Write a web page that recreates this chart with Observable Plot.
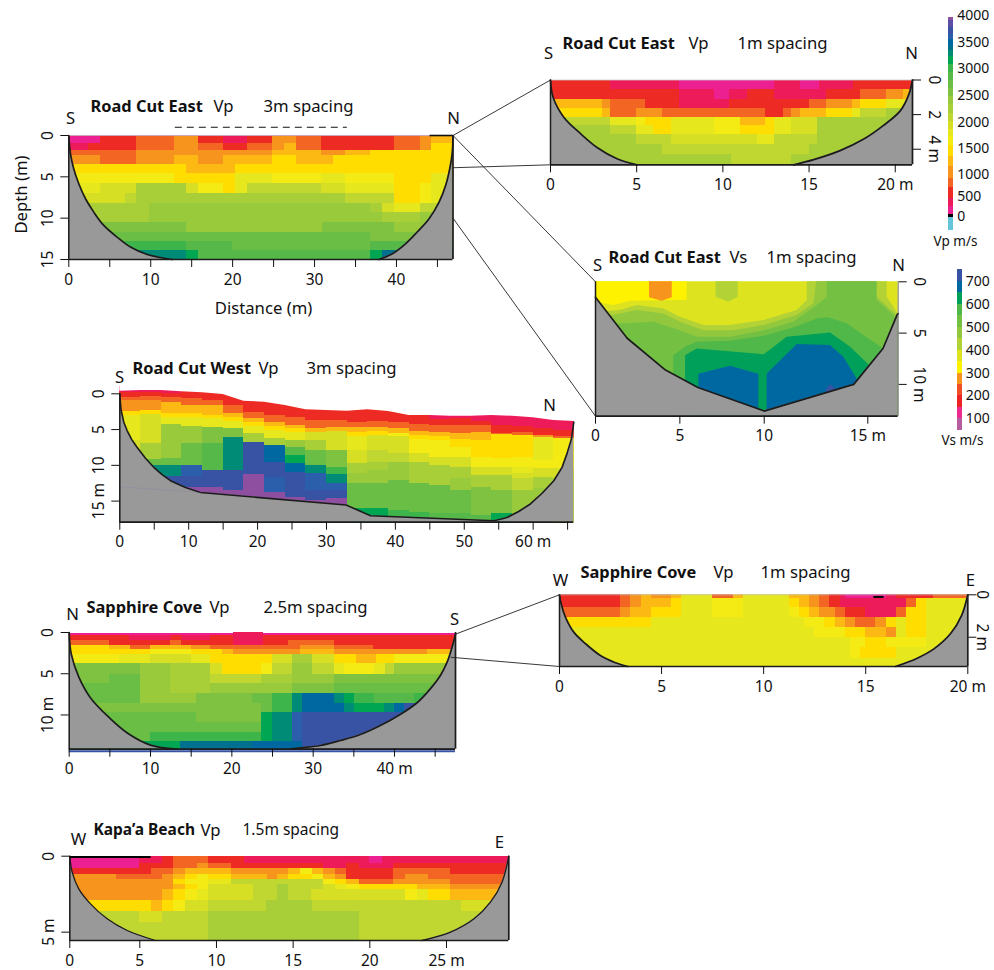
<!DOCTYPE html>
<html><head><meta charset="utf-8">
<style>html,body{margin:0;padding:0;background:#fff}#page{position:relative;width:994px;height:970px;overflow:hidden}</style>
<script src="https://cdn.jsdelivr.net/npm/d3@7"></script>
<script src="https://cdn.jsdelivr.net/npm/@observablehq/plot@0.6"></script>
</head><body><div id="page"></div>
<script>
// ---------- colour scales (m/s) ----------
const vpThresholds=[-40,50,250,450,700,900,1150,1350,1550,1725,1875,2025,2175,2325,2475,2625,2775,2925,3075,3225,3350,3450,3550,3650,3775,3900];
const vpColors=["#62c5da","#000000","#ec2090","#ed1b5a","#ee2a24","#f26522","#f7941e","#fdb913","#ffdd00","#f4eb15","#e6e71d","#d6df23","#bfd730","#a9cf38","#98ca3c","#7fc241","#6abd45","#55b848","#3db54a","#00a651","#008b76","#00708e","#0068a0","#2b5eab","#3953a4","#5a4fa2","#8e4fa0"];
const vsThresholds=[100,150,200,250,300,350,400,450,500,550,600,650,700];
const vsColors=["#b65da0","#ec2a90","#ed2224","#f04e25","#f7941e","#fff200","#dde31f","#b3d235","#92c83e","#74c043","#4fb848","#00a05a","#0068a0","#3953a4"];

// ---------- Road Cut East Vp 3 m: rows are [xEnd, velocity, ...] ----------
const rce3Depths=[0,.15,.93,1.8,2.4,3.5,4.6,5.85,7,8.2,9.3,10.5,11.7,12.8,13.9,15];
const rce3Rows=[
[44.1,150,46.9,1250],
[3.9,150,8.3,550,12.9,800,15.85,1000,18.9,550,21.8,350,24.9,550,27.85,1000,30.9,800,39.8,550,42.9,800,44.3,1000,46.9,1250],
[2.4,350,8.3,550,12.9,800,15.85,1000,18.9,800,21.8,550,24.9,800,26.3,1000,27.85,1250,30.9,800,39.8,550,42.9,800,44.3,1000,46.9,1450],
[8.3,800,24.9,1000,30.9,1250,33.8,1000,36.8,1250,46.9,1450],
[3.9,1000,8.3,800,12.9,1000,15.85,1250,18.9,1000,24.9,1250,27.85,1450,32.3,1250,46.9,1450],
[14.35,1450,20.3,1250,46.9,1450],
[12.9,1650,20.3,1450,24.9,1800,30.9,1650,33.8,1800,39.8,1650,44.3,1450,46.9,1800],
[3.9,1800,8.3,1950,14.35,2250,15.85,1950,18.9,1650,20.3,1450,21.8,1800,30.9,2100,33.8,1950,39.8,1800,42.9,1450,44.3,1650,46.9,1800],
[6.9,1950,8.3,2100,33.8,2250,39.8,2100,42.9,1450,44.3,1650,46.9,1800],
[9.8,2250,36.8,2400,38.3,2250,39.8,1950,42.9,1800,46.9,2100],
[9.8,2250,38.3,2400,42.9,2250,46.9,2400],
[14.35,2550,31,2400,39.8,2550,46.9,2400],
[36.8,2700,46.9,2550],
[14.35,3000,20,2850,36.8,2700,46.9,2850],
[14.35,3300,15.85,3150,36.8,2850,38.3,3150,46.9,3400]];
const rce3Boundary=[[0,0],[.2,2.2],[.6,4.03],[1.22,5.84],[2.04,7.65],[3.05,9.27],[4.27,10.88],[5.9,12.3],[7.53,13.5],[9.57,14.4],[12.6,15],[37.85,15],[39.5,14.3],[41.1,13.1],[42.5,11.7],[43.96,10.1],[45.2,8.07],[46,6.05],[46.5,4.03],[46.8,2.2],[46.9,0]];

// ---------- Road Cut East Vp 1 m ----------
const rce1Depths=[0,.56,1.12,1.62,2.16,2.64,3.16,3.7,4.28,4.9];
const rce1Rows=[
[3.5,550,5.5,350,7.5,350,13,150,14.5,350,15.6,150,17.6,350,21,550],
[7.5,550,9.5,350,10.4,150,11.4,350,13,550,16,350,18,550,19.5,800,20.5,1000,21,1250],
[3,1250,3.5,1000,5.5,800,7.5,550,10.4,350,15,550,16,800,17.5,1000,18,1250,19.5,1450,21,1800],
[3,1450,3.5,1250,5,800,6.5,1000,12.5,800,13.5,550,14,800,14.5,1000,16,1250,17.5,1450,18,1800,19.5,2100,21,2250],
[3.5,2100,5,1800,5.5,1650,7,1450,9.5,1800,11,1650,12.5,1250,13,1450,14,1800,15.5,1950,21,2250],
[3.5,2250,5,2100,6,1800,7,1450,9.5,1800,11,1650,13,1450,14,1800,15.5,1950,21,2250],
[5,2250,7,2100,12,1950,13,1800,15.5,2100,21,2250],
[6.5,2250,15,2100,21,2250],
[10.5,2250,14,2100,21,2250]];
const rce1Boundary=[[0,0],[.15,1],[.77,2.15],[1.74,3.1],[2.7,3.9],[3.86,4.55],[5.02,4.9],[14.1,4.9],[15.27,4.6],[16.8,4.08],[18.2,3.4],[19.3,2.64],[20.3,1.77],[20.8,.8],[21,0]];

// ---------- Road Cut East Vs 1 m: layers are [x, top, bottom] ----------
const vsLayers=[
{v:375,pts:[[0,0,13.1],[16.8,0,13.1]]},
{v:325,pts:[[0,0,2],[1.09,0,2.3],[2.07,0,1.9],[5.43,0,1.8]]},
{v:275,pts:[[3.2,0,1.56],[3.95,0,1.89],[4.55,0,1.56]]},
{v:425,pts:[[7.15,0,1.5],[7.9,0,2],[8.46,0,1.5]]},
{v:425,pts:[[0,3,13.1],[1.48,2.8,13.1],[2.47,2.31,13.1],[4.05,2.64,13.1],[5.04,3.45,13.1],[6.42,4.27,13.1],[8,4.27,13.1],[10,3.78,13.1],[11.59,2.8,13.1],[12.08,1.82,13.1],[12.08,0,13.1],[16.15,0,13.1],[16.15,1.5,13.1],[16.74,3,13.1],[16.8,3.2,13.1]]},
{v:475,pts:[[0,3.4,13.1],[1.09,3.29,13.1],[2.47,2.8,13.1],[4.05,3.13,13.1],[5.04,3.94,13.1],[6.42,4.76,13.1],[8.2,4.76,13.1],[10,4.27,13.1],[11.59,3.29,13.1],[12.4,2.15,13.1],[12.53,0,13.1],[15.55,0,13.1],[15.55,1.5,13.1],[16.74,3.3,13.1],[16.8,3.4,13.1]]},
{v:525,pts:[[0,4.2,13.1],[1.58,4.1,13.1],[3.46,3.94,13.1],[5.04,4.76,13.1],[6.03,5.4,13.1],[8,5.4,13.1],[10,4.76,13.1],[11.43,3.94,13.1],[12.56,2.31,13.1],[13.04,1.5,13.1],[13.04,0,13.1],[15.55,0,13.1],[15.55,1.8,13.1],[16.55,3.3,13.1],[16.8,3.8,13.1]]},
{v:575,pts:[[4.64,7.2,13.1],[5.4,6.3,13.1],[6.03,5.9,13.1],[8,5.8,13.1],[10,5.3,13.1],[11.43,4.5,13.1],[12.6,3.6,13.1],[13.1,3.5,13.1],[14,4.1,13.1],[15,5.5,13.1],[15.9,6.5,13.1]]},
{v:625,pts:[[5.34,7.2,13.1],[6.03,6.55,13.1],[10,7.1,13.1],[11.11,5.4,13.1],[13.2,5,13.1],[14.17,6.38,13.1],[15.06,8.08,13.1]]},
{v:675,pts:[[6.13,9,13.1],[8,8.24,13.1],[9.68,9,13.1]]},
{v:675,pts:[[10.14,9,13.1],[11.59,6.12,13.1],[13.2,6.2,13.1],[13.84,7.36,13.1],[14.48,9.48,13.1]]},
{v:725,pts:[[13,10.6,11],[13.2,10.03,11],[13.45,10.45,11]]}];
const vsBoundary=[[0,1.5],[1.88,5.5],[4.15,8.6],[6.07,10.3],[10,12.6],[14.32,10],[15.9,6.5],[16.74,3.2],[16.8,3.1]];

// ---------- Road Cut West Vp 3 m: 3 m columns, entries are [depthEnd, velocity, ...] ----------
const westColumns=[
[-.2,350,.47,550,.93,800,2.5,1000,3.04,1450,6.54,1800,7.94,1950,9.1,2250,10.05,2700,11.3,3300,18,3700],
[-.2,350,.4,550,1,800,2.34,1000,2.9,1450,7,1950,9.2,2250,10.05,2700,11.3,3300,18,3700],
[-.1,350,.5,550,1.2,800,2.8,1250,3.27,1450,4.3,1800,9.1,2400,10.05,2700,11.6,3300,12.85,3700,18,3950],
[.7,550,1.64,800,2.8,1250,3.27,1450,4.58,1800,7,2400,10.05,2700,11.6,3600,13.1,3700,18,3950],
[.93,550,1.64,800,3.04,1250,3.5,1450,4.67,1800,7,2550,10.75,2850,13.1,3700,18,3950],
[1.64,550,2.8,800,3.27,1250,3.83,1450,4.9,1800,6.17,2550,10.75,3300,13.55,3700,18,3950],
[2.57,550,3.5,800,3.97,1250,4.58,1450,5.6,1800,6.78,2250,11.3,3700,18,3950],
[3.04,550,3.97,800,4.58,1250,5.14,1450,6.3,1800,7.24,2250,9.58,3500,11.7,3700,13.8,3600,18,3950],
[3.27,550,4.44,800,4.9,1250,5.47,1450,6.54,1800,7.48,2400,8.64,2850,9.8,3150,11,3500,14.5,3700,18,3950],
[3.74,550,4.9,800,5.37,1250,6.54,1950,7.94,2250,10.05,2700,11.2,3300,13.55,3600,14.95,3700,18,3950],
[3.74,550,4.67,800,5.23,1250,7.94,1950,10.28,2550,11.35,3000,12.5,3300,13.55,3600,14.7,3700,18,3950],
[3.97,550,4.77,800,5.37,1250,5.93,1450,7.94,1800,9.8,1950,11.2,2250,12.6,2400,16.1,2700,18,3150],
[3.83,550,4.67,800,5.3,1250,5.84,1450,7.94,1950,9.58,2100,10.75,2250,12.6,2400,16.1,2700,18,3150],
[3.97,550,4.9,800,5.5,1250,6,1650,8.4,1950,9.58,2100,12.15,2400,16.35,2700,18,3000],
[4.3,550,5.23,800,5.84,1250,6.45,1450,8.4,1650,9.58,1950,12.6,2250,16.6,2700,18,3000],
[3.64,350,4.44,550,5.37,800,6,1250,6.54,1450,8.88,1650,10.05,1950,12.85,2250,16.8,2700,18,2850],
[3.5,350,4.44,550,5.6,800,6.45,1250,7.48,1450,8.88,1650,10.28,1950,11.9,2250,13.55,2400,16.8,2700,18,2850],
[3.83,350,4.44,550,5.37,800,6.54,1250,8.88,1450,10.28,1650,11.45,1950,13.1,2250,17.05,2550,18,2850],
[4.44,350,5.5,550,5.7,800,9.1,1450,10.28,1650,11.45,1950,13.55,2250,16.8,2550,18,3150],
[4.58,350,5.37,550,5.84,800,8.88,1450,10.28,1650,11.2,1800,11.9,1950,13.55,2100,18,2400],
[4.9,350,5.84,550,6.17,1000,9.35,1800,10.5,1650,11.7,1950,13.3,2250,18,2400],
[5.14,350,5.96,550,6.3,800,10.5,1650,11.9,1950,18,2100]];
const westColumnWidth=3;
const westSurface=[[0,-.37],[3,-.47],[6,-.47],[9,-.28],[12,-.14],[15,.09],[18,1.03],[21,1.17],[24,1.64],[27,2.24],[30,2.34],[33,2.43],[36,2.24],[39,2.48],[42,3.04],[45,3.04],[48,3.13],[51,3.13],[54,3.04],[57,3.13],[60,3.36],[63,3.74],[66,3.88]];
const westBoundary=[[0,0],[.1,1.4],[.2,2.34],[.58,3.97],[1.06,5.14],[1.74,6.4],[2.5,7.48],[3.73,9],[4.93,10.28],[6.14,11.3],[7.35,12.15],[9.53,13.1],[11.7,13.8],[32.85,15.55],[36.4,17.05],[54.3,17.75],[55.25,17.55],[56.2,17.3],[57.9,16.45],[59.6,15.4],[61.3,13.9],[63,12.15],[64.2,10.28],[64.9,8.4],[65.56,6.3],[65.9,3.97]];
const westFaintLine=[[0,13],[11.7,13.8]];

// ---------- Sapphire Cove Vp 2.5 m ----------
const sc25Depths=[.15,.4,1,1.6,2.1,2.7,3.8,5.04,6.2,7.36,8.6,9.7,10.9,12.07,13.2,14.15];
const sc25Rows=[
[47.5,150],
[7.4,550,12.6,350,13.8,550,17.4,350,47.5,550],
[5,800,12.5,550,13.8,800,27,550,32.6,800,47.5,550],
[5,1450,7.5,1250,10,800,15,1250,17.4,1000,28.5,800,32.6,1000,37.4,800,47.5,550],
[10,1450,15,1650,18.8,1450,20.25,1250,28.5,1000,32.6,1250,44,1000,47.5,1250],
[6.2,1650,10,1800,15,1950,17.4,1800,25,1450,27.5,1950,29.9,2250,32.6,1950,35.3,1450,37.8,1250,40,1450,47.5,1650],
[8.8,2550,12.5,2400,17.4,2250,18.8,1950,23.7,1450,25,1650,27.5,2100,29.9,2400,32.6,2100,33.8,1800,37.6,1650,38.9,1800,40,2100,47.5,2400],
[5,2550,8.8,2700,12.5,2400,17.4,2250,23.7,2100,27.5,2250,32.6,2400,47.5,2550],
[8.8,2700,12.5,2400,17.4,2250,27.5,2400,32.6,2550,47.5,2700],
[8.8,2700,15.7,2400,22.5,2550,25,2700,27.5,3000,28.7,3300,32.6,3500,33.8,3300,35.1,3150,37.6,3000,42.5,2850,47.5,3000],
[23.7,2550,25,2700,27.5,3000,28.7,3300,33.8,3500,35.1,3300,38.8,3150,40,3300,41.2,3500,47.5,3700],
[15.7,2700,23.7,2550,25,3150,27.5,3300,28.7,3600,47.5,3700],
[23.7,2700,25,3150,27.5,3300,28.7,3600,47.5,3700],
[10,2700,23.7,3000,25,3150,27.5,3300,28.7,3600,47.5,3700],
[13.7,3150,22.5,3400,28.7,3500,47.5,3700]];
const sc25Chunk=[{x1:20.25,x2:23.85,y1:0,y2:1.6,v:350}];
const sc25Boundary=[[0,0],[.25,2.6],[1.2,5.45],[2.6,7.9],[4.9,10.3],[7.1,12.15],[10,13.65],[13.3,14.15],[27.2,14.15],[28.43,13.98],[30.9,13.7],[33.35,13.1],[35.8,12.37],[38.26,11.28],[40.7,9.94],[42.78,8.52],[44.4,6.83],[45.64,5.21],[46.47,3.6],[47.08,1.78],[47.5,.24]];

// ---------- Sapphire Cove Vp 1 m ----------
const sc1Depths=[0,.18,.6,1.08,1.56,2.03,2.5,3,3.38];
const sc1Rows=[
[3,550,3.5,800,4,1000,4.5,1250,5.5,1000,6,1250,7.5,1800,8.5,800,9,1250,11.25,1800,12.25,1250,12.75,1000,13.25,800,13.75,550,14,350,16,150,16.5,350,18.3,550,20,800],
[3,550,3.5,800,4,1000,5.5,1250,6,1450,7.5,1800,9,1650,11.25,1800,11.75,1450,12.25,1250,12.75,1000,13.25,800,13.75,550,17,350,17.5,800,18,1450,20,1800],
[3,800,3.5,1000,4.5,1250,6,1450,7.5,1800,9,1650,11.25,1800,11.75,1650,12.25,1450,12.75,1250,13.5,1000,14,800,15,550,16.5,350,17,800,18,1450,20,1800],
[4.5,1450,12,1800,13,1650,13.5,1450,14,1250,14.5,1000,15.5,800,16,1000,16.5,1450,17,1800,18,1450,20,1800],
[12.5,1800,14,1650,15,1450,16,1250,16.5,1000,17,1800,18,1450,20,1800],
[14.25,1800,15,1650,16,1450,18,1650,20,1800],
[14.25,1800,14.75,1650,16.5,1450,20,1800],
[20,1800]];
const sc1Boundary=[[0,0],[.08,.42],[.29,1.05],[.7,1.76],[1.27,2.3],[2,2.86],[2.74,3.2],[3.35,3.38],[16.46,3.38],[17.5,3],[18.34,2.55],[19.15,1.84],[19.7,.97],[20,0]];

// ---------- Kapa'a Beach Vp 1.5 m ----------
const kbDepths=[0,.46,.83,1.23,1.54,1.89,2.2,2.9,3.64,4.34,5.55];
const kbRows=[
[5,150,6.46,350,7.2,550,9.5,800,11.8,550,20,350,20.8,150,21.56,350,29.07,350],
[5,150,7.2,550,8.74,800,9.5,1000,11,800,17,550,18.5,350,19.3,550,21.56,350,29.07,550],
[5.74,550,7.2,800,8,1000,11,1250,14.7,1000,15.5,1250,16.24,1650,17,1250,17.76,1000,18.5,800,21.56,550,25.26,800,29.07,550],
[3.3,1000,6.46,800,7.2,1000,8,1250,8.74,1450,9.5,1650,11,1450,13.3,1250,13.96,1000,14.7,1250,16.24,1450,17,1650,17.76,1250,18.5,1000,21.56,550,22.3,800,23.85,1000,29.07,800],
[7.2,1000,8,1450,9.5,1650,11,1800,17,2100,17.76,1650,18.5,1450,19.3,1250,21.56,800,25.26,1000,29.07,800],
[7.2,1000,8,1250,8.74,1450,9.5,1650,12.43,1950,13.96,2100,14.7,2250,17,2100,17.76,1950,18.5,1800,19.3,1650,23.1,1450,25.26,1250,29.07,1000],
[6.46,1000,7.2,1250,8,1450,8.74,1650,9.5,1800,12.43,1950,14,2100,14.7,2250,16.2,2100,22.3,1950,23.1,1650,23.85,1800,25.26,1450,29.07,1250],
[5.74,1450,6.46,1250,7.2,1450,8,1650,9.5,1950,13.26,2100,16.24,2250,26,2100,29.07,1950],
[5,2100,6.46,1950,9.5,2100,19.3,2250,29.07,2100],
[9.5,2100,19.3,2250,29.07,2100]];
const kbBoundary=[[0,0],[.17,1.05],[.64,2.15],[1.48,3.14],[2.67,4.12],[4.1,4.89],[6.02,5.55],[23.4,5.55],[25.26,5],[26.8,4.12],[27.87,3.03],[28.63,1.71],[29.07,0]];

// ---------- legend ticks ----------
const vpLegendTicks=[0,500,1000,1500,2000,2500,3000,3500,4000];
const vsLegendTicks=[100,200,300,400,500,600,700];

// ---------- helpers ----------
const FONT='"Noto Sans",sans-serif';
const page=document.getElementById("page");
const GRAY="#999999", DARK="#1c1c1c";
const vpColor={type:"threshold",domain:vpThresholds,range:vpColors};
const vsColor={type:"threshold",domain:vsThresholds,range:vsColors};
const pts=a=>a.map(([x,y])=>({x,y}));
function rowCells(depths,rows){const out=[];rows.forEach((r,i)=>{let x0=0;for(let j=0;j<r.length;j+=2){out.push({x1:x0,x2:r[j],y1:depths[i],y2:depths[i+1],v:r[j+1]});x0=r[j];}});return out;}
function columnCells(cols,w,start){const out=[];cols.forEach((c,i)=>{let y0=start;for(let j=0;j<c.length;j+=2){out.push({x1:i*w,x2:(i+1)*w,y1:y0,y2:c[j],v:c[j+1]});y0=c[j];}});return out;}
const cellMark=c=>Plot.rect(c,{x1:"x1",x2:"x2",y1:"y1",y2:"y2",fill:"v",shapeRendering:"crispEdges"});
function build(c,marks){
  const p=Plot.plot({width:994,height:970,marginLeft:c.l,marginRight:994-c.r,marginTop:c.t,marginBottom:970-c.b,
    x:{type:"linear",domain:c.xd,range:c.xr||[c.l,c.r],axis:null},
    y:{type:"linear",domain:c.yd,range:c.yr||[c.t,c.b],axis:null},
    color:c.color,
    style:{position:"absolute",left:"0",top:"0",background:"transparent",fontFamily:FONT,color:"#111",overflow:"visible"},
    marks});
  page.appendChild(p);return p;
}
// a label placed by its page position, relative to the frame of panel c
const lab=(c,s,px,py,o={})=>Plot.text([s],{text:d=>d,frameAnchor:"top-left",lineAnchor:"middle",dx:px-c.l,dy:py-c.t,fontSize:o.size||(o.bold?16.4:16.7),fontWeight:o.bold?"bold":"normal",textAnchor:o.anchor||"start",rotate:o.rotate||0,fill:"#111"});
const gray=(b,bottom,curve)=>Plot.areaY(pts(b),{x:"x",y1:"y",y2:()=>bottom,fill:GRAY,curve});
const bline=(b,curve,w=1.7)=>Plot.line(pts(b),{x:"x",y:"y",stroke:DARK,strokeWidth:w,curve});
// the side arcs of a section's mask, split where the boundary runs along the bottom
const arcs=(b,bottom)=>{const i=b.findIndex((p,k)=>k<b.length-1&&p[1]===bottom&&b[k+1][1]===bottom);return [b.slice(0,i+1),b.slice(i+1)];};
const arcMask=(b,bottom,w=1.7)=>{const [a,z]=arcs(b,bottom);const cv="catmull-rom";return [
  Plot.areaY(pts(a),{x:"x",y1:"y",y2:()=>bottom,fill:GRAY,curve:cv,clip:true}),
  Plot.areaY(pts(z),{x:"x",y1:"y",y2:()=>bottom,fill:GRAY,curve:cv,clip:true}),
  Plot.line(pts(a),{x:"x",y:"y",stroke:DARK,strokeWidth:w,curve:cv}),
  Plot.line(pts(z),{x:"x",y:"y",stroke:DARK,strokeWidth:w,curve:cv})];};
const frameR=(c,sides)=>sides.map(s=>s==="b"?Plot.ruleY([c.yd[c.yd.length-1]],{stroke:DARK,strokeWidth:1.7}):
   s==="l"?Plot.ruleX([c.xd[0]],{stroke:DARK,strokeWidth:1.5}):
   s==="r"?Plot.ruleX([c.xd[c.xd.length-1]],{stroke:DARK,strokeWidth:1.7}):
   Plot.ruleY([c.yd[0]],{stroke:"#c8c8c8",strokeWidth:.8}));
const xAxis=(ticks,fmt)=>Plot.axisX({ticks,tickFormat:fmt,tickSize:8,tickPadding:6,fontSize:15.5,label:null,anchor:"bottom"});
const yAxis=(ticks,fmt,anchor="left",pad=8)=>Plot.axisY({ticks,tickFormat:fmt,tickSize:8,tickPadding:pad,fontSize:15.5,label:null,anchor,tickRotate:anchor==="left"?-90:90,lineAnchor:"bottom"});

// ---------- panel frames ----------
const P1={l:68.3,r:452.5,t:135,b:259,xd:[0,46.9],yd:[0,15],color:vpColor};
const P2={l:550,r:912,t:79.5,b:164.3,xd:[0,21],yd:[0,4.9],color:vpColor};
const P3={l:595,r:897.7,t:281.3,b:415.7,xd:[0,10,15,16.8],xr:[595,763.7,867.3,897.7],yd:[0,13.1],color:vsColor};
const P4={l:119.3,r:573.3,t:393.3,b:521.7,xd:[0,65.9],yd:[0,17.95],color:vpColor};
const P5={l:68.7,r:455,t:632,b:748.7,xd:[0,47.5],yd:[0,14.15],color:vpColor};
const P6={l:559,r:967.3,t:594.3,b:666,xd:[0,20],yd:[0,3.38],color:vpColor};
const P7={l:69.3,r:508.3,t:855.7,b:940,xd:[0,5,25,29.07],xr:[69.3,139.3,446,508.3],yd:[0,5.55],color:vpColor};
const LP={l:948,r:953.3,t:15,b:230,xd:[0,1],yd:[-600,0,500,1000,1500,2000,2500,3000,3500,4000],yr:[230,216,196,174,148,122,95,68,42,15],color:vpColor};
const LS={l:957.3,r:961.7,t:269.3,b:430,xd:[0,1],yd:[50,100,700,750],yr:[430,418.3,281,269.3],color:vsColor};

// ---------- panels ----------
const p1=build(P1,[
  cellMark(rowCells(rce3Depths,rce3Rows)),...arcMask(rce3Boundary,15),...frameR(P1,["t","l","r","b"]),
  Plot.ruleY([0],{x1:()=>44.1,x2:()=>46.9,stroke:"#111",strokeWidth:1.6}),
  Plot.ruleY([-1],{x1:()=>13,x2:()=>34,stroke:"#111",strokeWidth:1.2,strokeDasharray:"7,5"}),
  xAxis(d3.range(0,46,5),d=>d%10?"":d),yAxis([0,5,10,15],d=>d),
  lab(P1,"Road Cut East",90,106,{bold:1}),lab(P1,"Vp",213,106),lab(P1,"3m spacing",263,106),
  lab(P1,"S",70,118,{anchor:"middle"}),lab(P1,"N",453,118,{anchor:"middle"}),
  lab(P1,"Depth (m)",21,194,{anchor:"middle",rotate:-90}),lab(P1,"Distance (m)",263,308,{anchor:"middle"})]);
const p2=build(P2,[
  cellMark(rowCells(rce1Depths,rce1Rows)),...arcMask(rce1Boundary,4.9),...frameR(P2,["t","l","r","b"]),
  xAxis([0,5,10,15,20],d=>d===20?"20 m":d),yAxis([0,2,4],d=>d===4?"4 m":d,"right"),
  lab(P2,"Road Cut East",562,43,{bold:1}),lab(P2,"Vp",688,43),lab(P2,"1m spacing",737,43),
  lab(P2,"S",548,53,{anchor:"middle"}),lab(P2,"N",911,53,{anchor:"middle"})]);
const p3=build(P3,[
  ...vsLayers.map(l=>Plot.areaY(l.pts.map(([x,top,bot])=>({x,top,bot,v:l.v})),{x:"x",y1:"top",y2:"bot",fill:"v"})),
  gray(vsBoundary,13.1,"linear"),bline(vsBoundary,"linear"),
  ...frameR(P3,["l","b"]),Plot.ruleX([16.8],{stroke:"#555",strokeWidth:.8}),
  xAxis([0,5,10,15],d=>d===15?"15 m":d),yAxis([0,5,10],d=>d===10?"10 m":d,"right"),
  lab(P3,"Road Cut East",608,257,{bold:1}),lab(P3,"Vs",729,257),lab(P3,"1m spacing",766,257),
  lab(P3,"S",597,265,{anchor:"middle"}),lab(P3,"N",898,265,{anchor:"middle"})]);
const p4=build(P4,[
  cellMark(columnCells(westColumns,westColumnWidth,-1)),
  Plot.areaY(pts(westSurface),{x:"x",y1:()=>-1.2,y2:"y",fill:"white"}),
  gray(westBoundary,17.95,"linear"),bline(westBoundary,"linear",1.6),
  Plot.line(pts(westFaintLine),{x:"x",y:"y",stroke:"#8a6aa8",strokeWidth:.5,strokeOpacity:.5}),
  ...frameR(P4,["l","b"]),
  xAxis(d3.range(0,66,5),d=>d%10?"":(d===60?"60 m":d)),yAxis([0,5,10,15],d=>d===15?"15 m":d),
  lab(P4,"Road Cut West",132,368,{bold:1}),lab(P4,"Vp",258,368),lab(P4,"3m spacing",306,368),
  lab(P4,"S",119,377,{anchor:"middle"}),lab(P4,"N",549,405,{anchor:"middle"})]);
const p5=build(P5,[
  cellMark(rowCells(sc25Depths,sc25Rows)),cellMark(sc25Chunk),...arcMask(sc25Boundary,14.15),
  ...frameR(P5,["l","r","b"]),
  Plot.ruleY([14.39],{stroke:"#3953a4",strokeWidth:2}),
  xAxis(d3.range(0,46,5),d=>d%10?"":(d===40?"40 m":d)),yAxis([0,5,10],d=>d===10?"10 m":d),
  lab(P5,"Sapphire Cove",86,607,{bold:1}),lab(P5,"Vp",209,607),lab(P5,"2.5m spacing",263,607),
  lab(P5,"N",72,614,{anchor:"middle"}),lab(P5,"S",454,619,{anchor:"middle"})]);
const p6=build(P6,[
  cellMark(rowCells(sc1Depths,sc1Rows)),...arcMask(sc1Boundary,3.38),
  ...frameR(P6,["t","l","r","b"]),
  Plot.ruleY([.1],{x1:()=>15.4,x2:()=>15.9,stroke:"#000",strokeWidth:2}),
  xAxis([0,5,10,15,20],d=>d===20?"20 m":d),yAxis([0,2],d=>d===2?"2 m":d,"right",1),
  lab(P6,"Sapphire Cove",580,572,{bold:1}),lab(P6,"Vp",713,572),lab(P6,"1m spacing",760,572),
  lab(P6,"W",560,580,{anchor:"middle"}),lab(P6,"E",970,580,{anchor:"middle"})]);
const p7=build(P7,[
  cellMark(rowCells(kbDepths,kbRows)),...arcMask(kbBoundary,5.55,1.3),
  ...frameR(P7,["l","r","b"]),
  Plot.ruleY([.05],{x1:()=>0,x2:()=>5.74,stroke:"#000",strokeWidth:2}),
  xAxis([0,5,10,15,20,25],d=>d===25?"25 m":d),yAxis([0,5],d=>d===5?"5 m":d),
  lab(P7,"Kapa\u2019a Beach",93,830,{bold:1,size:15.5}),lab(P7,"Vp",200,830),lab(P7,"1.5m spacing",242,830,{size:15.5}),
  lab(P7,"W",78,839,{anchor:"middle"}),lab(P7,"E",499,842,{anchor:"middle"})]);

// ---------- colour bars ----------
const barBands=(th,lo,hi)=>{const e=[lo,...th,hi];return e.slice(0,-1).map((a,i)=>({lo:a,hi:e[i+1],v:i===0?a-1:a+.5}));};
build(LP,[
  Plot.rect(barBands(vpThresholds,-600,3960),{x1:()=>0,x2:()=>1,y1:"lo",y2:"hi",fill:"v",shapeRendering:"crispEdges"}),
  Plot.axisY({anchor:"right",ticks:vpLegendTicks,tickSize:0,tickPadding:3.5,fontSize:14,label:null,tickFormat:d=>String(d)}),
  lab(LP,"Vp m/s",933,241,{size:13.5})]);
build(LS,[
  Plot.rect(barBands(vsThresholds,50,750),{x1:()=>0,x2:()=>1,y1:"lo",y2:"hi",fill:"v",shapeRendering:"crispEdges"}),
  Plot.axisY({anchor:"right",ticks:vsLegendTicks,tickSize:0,tickPadding:3.5,fontSize:14,label:null,tickFormat:d=>String(d)}),
  lab(LS,"Vs m/s",941,440,{size:13.5})]);

// ---------- zoom connectors between sections, given in each panel's own coordinates ----------
const at=(p,x,y)=>[p.scale("x").apply(x),p.scale("y").apply(y)];
const links=[[at(p1,46.9,0),at(p2,0,0)],[at(p1,46.9,3.9),at(p2,0,4.9)],[at(p1,46.9,0),at(p3,0,0)],[at(p1,46.9,10),at(p3,0,13.1)],[at(p5,47.5,.2),at(p6,0,0)],[at(p5,46.9,3),at(p6,0,3.38)]]
  .map(([a,b])=>({x1:a[0],y1:a[1],x2:b[0],y2:b[1]}));
build({l:0,r:994,t:0,b:970,xd:[0,994],yd:[0,970]},[Plot.link(links,{x1:"x1",y1:"y1",x2:"x2",y2:"y2",stroke:"#222",strokeWidth:.9})]);
</script></body></html>
